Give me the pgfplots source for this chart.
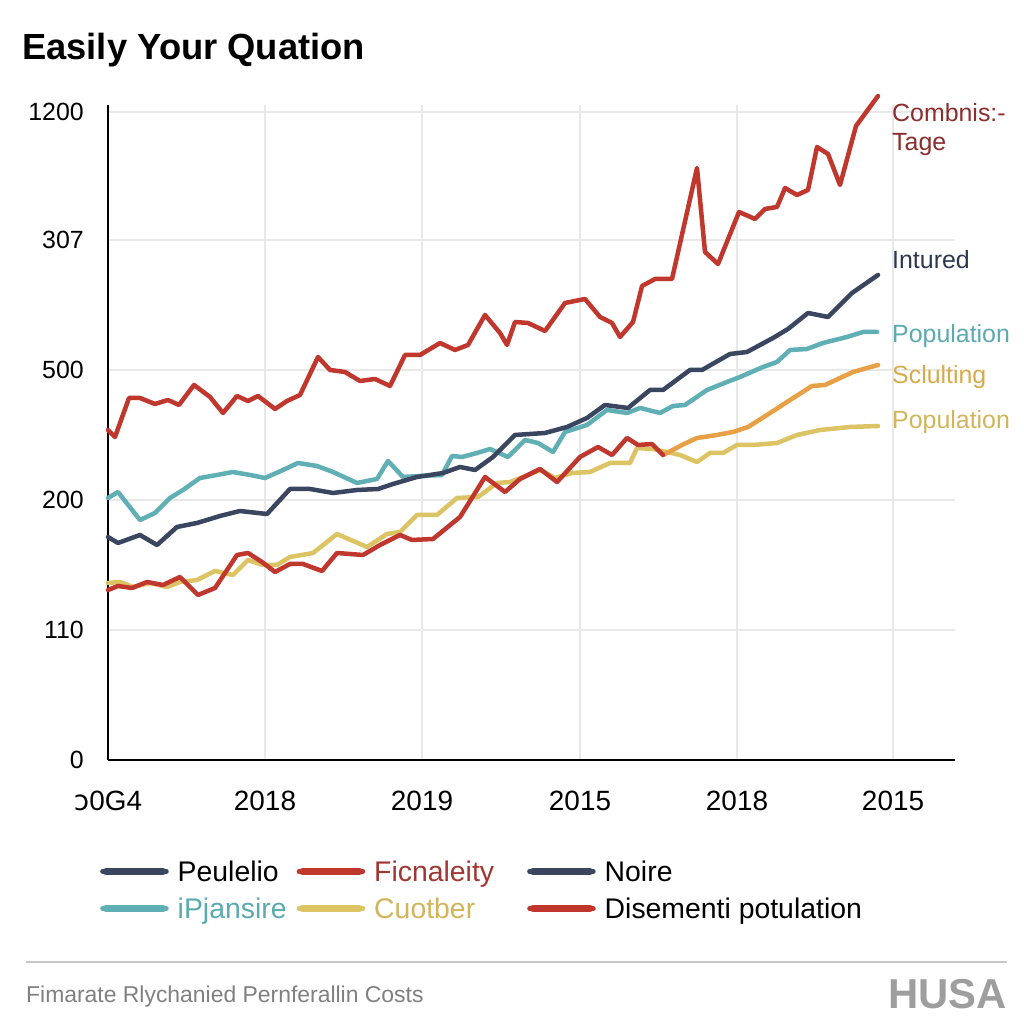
\documentclass[border=0pt]{standalone}
\usepackage{pgfplots}
\pgfplotsset{compat=1.18}
\usepackage{fontspec}
\setmainfont{Liberation Sans}
\newfontfamily\dejavu{DejaVu Sans}

\definecolor{cred}{RGB}{192,55,45}
\definecolor{cnavy}{RGB}{58,70,96}
\definecolor{cteal}{RGB}{95,175,180}
\definecolor{corange}{RGB}{232,160,70}
\definecolor{cyellow}{RGB}{220,195,100}
\definecolor{tred}{RGB}{140,45,45}
\definecolor{tnavy}{RGB}{45,55,80}
\definecolor{tteal}{RGB}{90,170,175}
\definecolor{torange}{RGB}{215,170,75}
\definecolor{tyellow}{RGB}{210,180,90}
\definecolor{lred}{RGB}{160,55,50}

\begin{document}
\begin{tikzpicture}[x=1bp,y=1bp]
\fill[white] (0,0) rectangle (1024,1024);
\node[anchor=base west, inner sep=0pt, font=\fontsize{36.5}{40}\selectfont\bfseries] at (22,964) {Easily Your Quation};

\begin{axis}[
    at={(108bp,264bp)}, anchor=south west,
    scale only axis, width=847bp, height=655bp,
    xmin=108, xmax=955, ymin=0, ymax=655,
    clip=false,
    axis lines=left,
    axis line style={black, line width=2.8bp, -},
    major tick length=0pt,
    xtick={108,265,422,580,737,893},
    xticklabels={{\dejavu ↄ}0G4,2018,2019,2015,2018,2015},
    ytick={0,130,260,390,520,648},
    yticklabels={0,110,200,500,307,1200},
    grid=major,
    grid style={line width=1.5bp, color=black!9},
    /pgf/number format/assume math mode=true,
    xticklabel style={font=\fontsize{28}{30}\selectfont, inner sep=0pt, anchor=north, yshift=-31bp},
    yticklabel style={font=\fontsize{25}{27}\selectfont, inner sep=0pt, anchor=east, xshift=-24bp},
    every axis plot/.append style={line width=4.5bp, line join=round, line cap=round},
    legend columns=3,
    legend cell align=left,
    legend style={draw=none, fill=none, inner sep=0pt,
        at={(-0.0094,-0.150)}, anchor=north west,
        font=\fontsize{28.5}{31}\selectfont,
        column sep=7bp, row sep=11bp,
        /tikz/every even column/.append style={column sep=0bp}},
    legend image code/.code={
        \path (0bp,0bp) -- (64bp,0bp);
        \draw[#1, line width=7bp, line cap=round] (3.5bp,0bp) -- (60.5bp,0bp);
    },
]
% top red
\addplot[cred, forget plot] coordinates {
(108,330)(115,323)(129,362)(140,362)(155,356)(168,360)(179,355)(194,375)(210,363)(223,347)
(237,364)(248,359)(258,364)(275,351)(287,359)(300,365)(318,403)(330,390)(345,388)(360,379)
(375,381)(390,374)(405,405)(420,405)(440,417)(455,410)(468,415)(485,445)(500,427)(507,415)
(515,438)(528,437)(545,429)(565,457)(585,461)(600,443)(612,437)(620,423)(633,438)(642,474)
(655,481)(672,481)(697,592)(705,508)(718,496)(739,548)(755,541)(765,551)(777,553)(785,572)
(797,565)(808,570)(817,613)(828,606)(840,575)(856,634)(878,664)};
% yellow
\addplot[cyellow, forget plot] coordinates {
(108,177)(120,178)(133,173)(150,177)(167,173)(180,178)(197,180)(215,189)(233,185)(248,200)
(263,195)(277,195)(290,203)(313,207)(337,226)(367,213)(387,226)(400,228)(417,245)(437,245)
(457,262)(478,263)(497,277)(510,278)(523,283)(540,290)(555,282)(572,287)(590,288)(610,297)
(630,297)(637,312)(653,311)(680,305)(697,298)(710,307)(723,307)(737,315)(753,315)(777,317)
(797,325)(820,330)(850,333)(878,334)};
% orange
\addplot[corange, forget plot] coordinates {
(663,305)(682,315)(697,322)(717,325)(733,328)(748,333)(767,345)(787,358)(812,374)(825,375)
(853,388)(878,395)};
% lower red
\addplot[cred, forget plot] coordinates {
(108,170)(118,174)(132,172)(147,178)(163,175)(180,183)(198,165)(215,172)(237,205)(248,207)
(262,198)(275,188)(290,196)(303,196)(322,189)(337,207)(363,205)(380,215)(400,225)(412,220)
(433,221)(460,243)(485,283)(505,268)(520,281)(540,291)(557,278)(580,303)(598,313)(612,305)
(627,322)(638,315)(652,316)(663,305)};
% teal
\addplot[cteal, forget plot] coordinates {
(108,262)(118,268)(140,240)(155,247)(170,262)(183,270)(200,282)(217,285)(233,288)(250,285)
(265,282)(283,290)(298,297)(317,294)(333,288)(357,277)(377,281)(388,299)(403,283)(420,284)
(442,285)(452,304)(462,303)(477,307)(490,311)(508,303)(525,320)(538,317)(553,308)(565,328)
(587,335)(607,350)(627,347)(640,352)(660,347)(673,354)(685,355)(707,370)(727,378)(740,383)
(763,393)(777,398)(790,410)(807,411)(823,417)(847,423)(863,428)(877,428)};
% navy
\addplot[cnavy, forget plot] coordinates {
(108,223)(118,217)(140,225)(157,215)(177,233)(197,237)(220,244)(240,249)(267,246)(290,271)
(310,271)(333,267)(357,270)(378,271)(393,276)(417,283)(443,287)(460,293)(475,290)(493,303)
(515,325)(545,327)(567,333)(587,342)(605,355)(628,352)(650,370)(663,370)(690,390)(702,390)
(730,406)(747,408)(773,422)(788,431)(808,447)(828,443)(852,467)(878,485)};

\addlegendimage{cnavy}
\addlegendentry{\makebox[117bp][l]{Peulelio}}
\addlegendimage{cred}
\addlegendentry{\makebox[151bp][l]{\textcolor{lred}{Ficnaleity}}}
\addlegendimage{cnavy}
\addlegendentry{Noire}
\addlegendimage{cteal}
\addlegendentry{\makebox[117bp][l]{\textcolor{tteal}{iPjansire}}}
\addlegendimage{cyellow}
\addlegendentry{\makebox[151bp][l]{\textcolor{tyellow}{Cuotber}}}
\addlegendimage{cred}
\addlegendentry{Disementi potulation}

\node[anchor=west, inner sep=0pt, align=left, text=tred, font=\fontsize{25}{29}\selectfont] at (axis cs:892,630) {Combnis:-\\Tage};
\node[anchor=west, inner sep=0pt, text=tnavy, font=\fontsize{25}{29}\selectfont] at (axis cs:892,500) {Intured};
\node[anchor=west, inner sep=0pt, text=tteal, font=\fontsize{25}{29}\selectfont] at (axis cs:892,424) {Population};
\node[anchor=west, inner sep=0pt, text=torange, font=\fontsize{25}{29}\selectfont] at (axis cs:892,383) {Sclulting};
\node[anchor=west, inner sep=0pt, text=tyellow, font=\fontsize{25}{29}\selectfont] at (axis cs:892,338) {Population};
\end{axis}

\draw[black!22, line width=1.5bp] (26,62) -- (1007,62);
\node[anchor=west, inner sep=0pt, text=black!50, font=\fontsize{23}{26}\selectfont] at (26,27) {Fimarate Rlychanied Pernferallin Costs};
\node[anchor=east, inner sep=0pt, text=black!38, font=\fontsize{42}{46}\selectfont\bfseries] at (1007,30) {HUSA};
\end{tikzpicture}
\end{document}
